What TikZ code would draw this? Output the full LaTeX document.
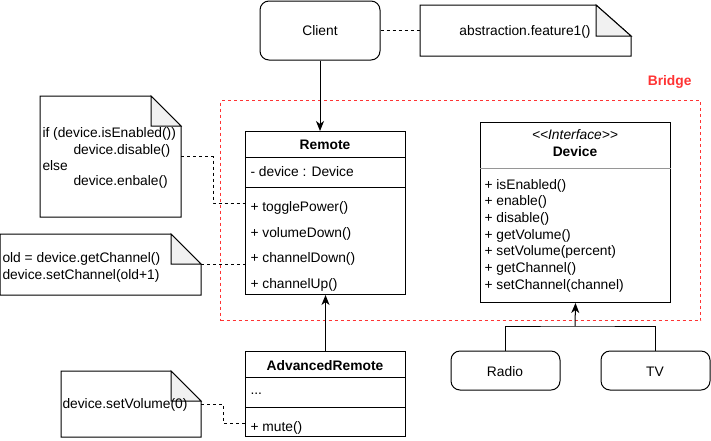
\documentclass[tikz,border=0pt]{standalone}
\usepackage{fontspec}
\setmainfont{Liberation Sans}
\usetikzlibrary{arrows.meta}
\definecolor{foldgray}{RGB}{241,241,241}
\definecolor{bridgered}{RGB}{255,51,51}
\definecolor{sepgray}{RGB}{150,150,150}
\begin{document}
\begin{tikzpicture}[x=1pt,y=-1pt,line width=1pt,
  box/.style={draw,inner sep=0pt},
  rbox/.style={box,rounded corners=9pt},
  area/.style={inner sep=0pt,anchor=north west},
  txt/.style={inner sep=0pt,font=\fontsize{13.8}{16.6}\selectfont},
  dline/.style={dashed,dash pattern=on 3pt off 3pt,line width=0.8pt},
  arr/.style={-{Stealth[length=10pt,width=8pt,inset=3pt]}},
  sep/.style={line width=1pt}]
\useasboundingbox (0,0) rectangle (711,440);

% bridge frame
\node[area,draw=bridgered,dash pattern=on 3pt off 3pt,minimum width=480pt,minimum height=220pt] (bridge) at (220,100) {};
\node[txt,anchor=base east,text=bridgered,font=\fontsize{13.8}{16.6}\selectfont\bfseries] (bridgelbl) at (692,85) {Bridge};

% client
\node[rbox,minimum width=120pt,minimum height=59pt] (client) at (320,30.5) {};
\node[txt,anchor=base] (clientt) at (320,35) {Client};

% notes
\node[area,minimum width=210pt,minimum height=50pt] (na) at (420,5) {};
\node[area,minimum width=140pt,minimum height=120pt] (n1) at (40,96) {};
\node[area,minimum width=200pt,minimum height=60pt] (n2) at (0,234) {};
\node[area,minimum width=139pt,minimum height=65pt] (n3) at (61,371) {};
\foreach \n/\fx/\fy in {na/35/31,n1/30/30,n2/30/30,n3/30/30}{
  \draw[fill=white] (\n.north west) -- ([xshift=-\fx pt]\n.north east) -- ([yshift=-\fy pt]\n.north east) -- (\n.south east) -- (\n.south west) -- cycle;
  \draw[fill=foldgray] ([xshift=-\fx pt]\n.north east) -- ([xshift=-\fx pt,yshift=-\fy pt]\n.north east) -- ([yshift=-\fy pt]\n.north east) -- cycle;
}
\node[txt,anchor=base] (nat) at (525,35) {abstraction.feature1()};
\node[txt,anchor=base west] (n1a) at (42,137) {if (device.isEnabled())};
\node[txt,anchor=base west] (n1b) at (73,154) {device.disable()};
\node[txt,anchor=base west] (n1c) at (42,170) {else};
\node[txt,anchor=base west] (n1d) at (73,185) {device.enbale()};
\node[txt,anchor=base west] (n2a) at (2,262) {old = device.getChannel()};
\node[txt,anchor=base west] (n2b) at (2,279) {device.setChannel(old+1)};
\node[txt,anchor=base west] (n3a) at (62,408) {device.setVolume(0)};

% Remote
\node[area,box,minimum width=160pt,minimum height=163pt] (remote) at (245,131) {};
\draw[sep] ([yshift=-26pt]remote.north west) -- ([yshift=-26pt]remote.north east);
\draw[sep] ([yshift=-56pt]remote.north west) -- ([yshift=-56pt]remote.north east);
\node[txt,anchor=base,font=\fontsize{13.8}{16.6}\selectfont\bfseries] (remotet) at (325,149) {Remote};
\node[txt,anchor=base west] (rattr) at (250,176) {- device : Device};
\node[txt,anchor=base west] (rm1) at (250,211) {+ togglePower()};
\node[txt,anchor=base west] (rm2) at (250,237) {+ volumeDown()};
\node[txt,anchor=base west] (rm3) at (250,262) {+ channelDown()};
\node[txt,anchor=base west] (rm4) at (250,288) {+ channelUp()};

% Device
\node[area,box,minimum width=190pt,minimum height=180pt] (device) at (480,122) {};
\draw[sepgray,line width=1pt] ([yshift=-46pt]device.north west) -- ([yshift=-46pt]device.north east);
\node[txt,anchor=base,font=\fontsize{13.8}{16.6}\selectfont\itshape] (devs) at (575,139) {{<}{<}Interface{>}{>}};
\node[txt,anchor=base,font=\fontsize{13.8}{16.6}\selectfont\bfseries] (devt) at (575,156) {Device};
\foreach \t [count=\i from 0] in {+ isEnabled(),+ enable(),+ disable(),+ getVolume(),+ setVolume(percent),+ getChannel(),+ setChannel(channel)}{
  \node[txt,anchor=base west] (dm\i) at (484,189+16.67*\i) {\t};
}

% AdvancedRemote
\node[area,box,minimum width=160pt,minimum height=85pt] (adv) at (245,351) {};
\draw[sep] ([yshift=-26pt]adv.north west) -- ([yshift=-26pt]adv.north east);
\draw[sep] ([yshift=-56pt]adv.north west) -- ([yshift=-56pt]adv.north east);
\node[txt,anchor=base,font=\fontsize{13.8}{16.6}\selectfont\bfseries] (advt) at (325,370) {AdvancedRemote};
\node[txt,anchor=base west] (advattr) at (250,394) {...};
\node[txt,anchor=base west] (advm) at (250,431) {+ mute()};

% Radio, TV
\node[rbox,minimum width=109pt,minimum height=39pt] (radio) at (505.5,370.5) {};
\node[txt,anchor=base] (radiot) at (505,376) {Radio};
\node[rbox,minimum width=109pt,minimum height=39pt] (tv) at (655.5,370.5) {};
\node[txt,anchor=base] (tvt) at (655,376) {TV};

% connectors
\coordinate (jn) at (575,326);
\coordinate (t1) at (245,203);
\coordinate (t3) at (245,423);
\draw[arr] (client.south) -- (client.south |- remote.north);
\draw[arr] (adv.north) -- (remote.south);
\draw (radio.north) |- (jn) -| (tv.north);
\draw[arr] (jn) -- (device.south);
\draw[dline] (client.east) -- (na.west);
\draw[dline] (n1.east) -- ++(32,0) |- (t1);
\draw[dline] (n2.east) -- (n2.east -| remote.west);
\draw[dline] (n3.east) -- ++(22,0) |- (t3);
\end{tikzpicture}
\end{document}
